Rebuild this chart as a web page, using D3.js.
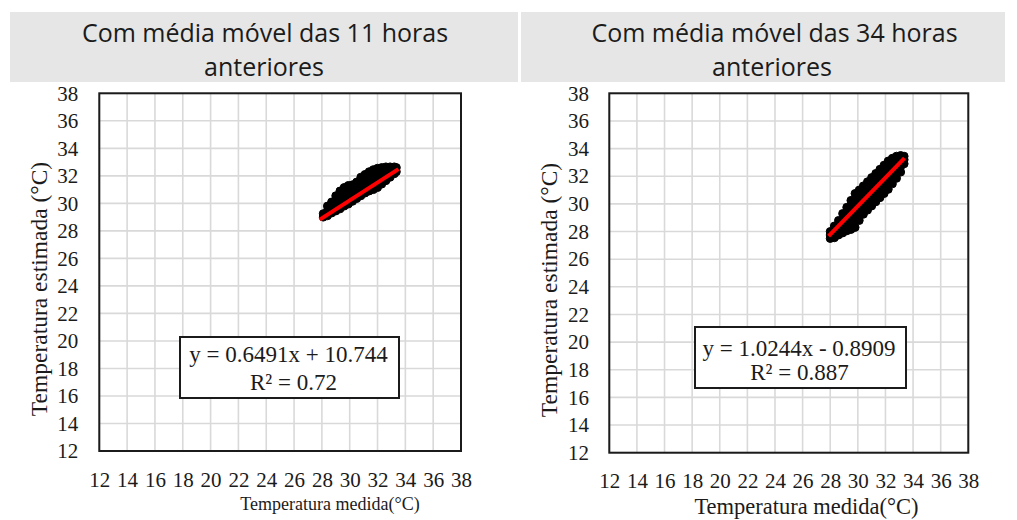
<!DOCTYPE html>
<html><head><meta charset="utf-8">
<script src="https://cdn.jsdelivr.net/npm/d3@7"></script>
<style>
html,body{margin:0;padding:0;background:#fff;}
svg{display:block;}
</style></head><body>
<svg id="chart" width="1017" height="520"></svg>
<script>
// Tick values shared by both axes of both panels
const tickValues = [12, 14, 16, 18, 20, 22, 24, 26, 28, 30, 32, 34, 36, 38];

const panelTitles = [
  ["Com média móvel das 11 horas", "anteriores"],
  ["Com média móvel das 34 horas", "anteriores"]
];
const xAxisTitle = "Temperatura medida(°C)";
const yAxisTitle = "Temperatura estimada (°C)";

// Linear fit of each panel
const slopes = [0.6491, 1.0244];
const intercepts = [10.744, -0.8909];
const rSquared = ["0.72", "0.887"];
const fitRange = [[27.85, 33.5], [27.88, 33.38]];

// Measured vs estimated temperature, 11-hour moving average
const cloud11 = [
  [28.1, 29.0], [28.1, 29.25],
  [28.4, 29.1], [28.4, 29.45], [28.4, 29.8],
  [28.7, 29.3], [28.7, 29.7], [28.7, 30.1],
  [29.0, 29.45], [29.0, 29.85], [29.0, 30.25], [29.0, 30.55],
  [29.3, 29.6], [29.3, 30.0], [29.3, 30.45], [29.3, 30.9],
  [29.6, 29.8], [29.6, 30.25], [29.6, 30.7], [29.6, 31.15],
  [29.9, 29.95], [29.9, 30.4], [29.9, 30.85], [29.9, 31.3],
  [30.2, 30.15], [30.2, 30.55], [30.2, 30.95], [30.2, 31.35],
  [30.5, 30.35], [30.5, 30.75], [30.5, 31.15], [30.5, 31.55],
  [30.8, 30.55], [30.8, 30.95], [30.8, 31.4], [30.8, 31.9],
  [31.1, 30.75], [31.1, 31.2], [31.1, 31.65], [31.1, 32.1],
  [31.4, 30.9], [31.4, 31.35], [31.4, 31.85], [31.4, 32.3],
  [31.7, 31.0], [31.7, 31.5], [31.7, 32.0], [31.7, 32.45],
  [32.0, 31.15], [32.0, 31.6], [32.0, 32.1], [32.0, 32.55],
  [32.3, 31.4], [32.3, 31.8], [32.3, 32.2], [32.3, 32.6],
  [32.6, 31.65], [32.6, 32.0], [32.6, 32.35], [32.6, 32.65],
  [32.9, 31.9], [32.9, 32.25], [32.9, 32.65],
  [33.2, 32.15], [33.2, 32.4], [33.2, 32.65],
  [33.35, 32.3], [33.35, 32.6]
];

// Measured vs estimated temperature, 34-hour moving average
const cloud34 = [
  [28.0, 27.5], [28.0, 27.75], [28.0, 28.0],
  [28.3, 27.55], [28.3, 28.0], [28.3, 28.4],
  [28.6, 27.75], [28.6, 28.25], [28.6, 28.8],
  [28.9, 27.9], [28.9, 28.35], [28.9, 28.85], [28.9, 29.3],
  [29.2, 28.05], [29.2, 28.5], [29.2, 28.95], [29.2, 29.35], [29.2, 29.75],
  [29.5, 28.15], [29.5, 28.65], [29.5, 29.2], [29.5, 29.75], [29.5, 30.25],
  [29.8, 28.3], [29.8, 28.8], [29.8, 29.3], [29.8, 29.8], [29.8, 30.3], [29.8, 30.75],
  [30.1, 28.8], [30.1, 29.35], [30.1, 29.9], [30.1, 30.45], [30.1, 31.0],
  [30.4, 29.25], [30.4, 29.75], [30.4, 30.3], [30.4, 30.8], [30.4, 31.3],
  [30.7, 29.55], [30.7, 30.05], [30.7, 30.55], [30.7, 31.1], [30.7, 31.6],
  [31.0, 29.85], [31.0, 30.35], [31.0, 30.85], [31.0, 31.4], [31.0, 31.9],
  [31.3, 30.15], [31.3, 30.65], [31.3, 31.15], [31.3, 31.7], [31.3, 32.2],
  [31.6, 30.45], [31.6, 30.95], [31.6, 31.45], [31.6, 32.0], [31.6, 32.5],
  [31.9, 30.75], [31.9, 31.25], [31.9, 31.75], [31.9, 32.3], [31.9, 32.8],
  [32.2, 31.05], [32.2, 31.55], [32.2, 32.05], [32.2, 32.6], [32.2, 33.1],
  [32.5, 31.45], [32.5, 31.9], [32.5, 32.4], [32.5, 32.85], [32.5, 33.3],
  [32.8, 31.85], [32.8, 32.3], [32.8, 32.75], [32.8, 33.15], [32.8, 33.45],
  [33.1, 32.3], [33.1, 32.7], [33.1, 33.1], [33.1, 33.5],
  [33.35, 32.9], [33.35, 33.2], [33.35, 33.45]
];
const clouds = [cloud11, cloud34];

// Page geometry of the two panels
const layout = [
  {
    band: [10, 518], titleX: [265, 264],
    plot: { x0: 99.3, x1: 461, y0: 93.3, y1: 451 },
    yPad: 21, xPad: 20.8,
    xTitle: { x: 330, y: 510, size: 18 },
    yTitle: { x: 47, y: 289 },
    box: { x: 180, y: 337, w: 219, h: 61, l1: [288.5, 362], l2: [293.5, 390] }
  },
  {
    band: [521, 1005], titleX: [774.5, 772],
    plot: { x0: 609.3, x1: 968.3, y0: 93.3, y1: 452.7 },
    yPad: 20.3, xPad: 20.1,
    xTitle: { x: 806.5, y: 514, size: 22.5 },
    yTitle: { x: 557, y: 290 },
    box: { x: 695, y: 327, w: 211, h: 61, l1: [799, 356], l2: [799.5, 380] }
  }
];

const serif = "'Liberation Serif', 'Times New Roman', serif";
const sans = "'Open Sans', 'Noto Sans', sans-serif";
const ink = "#1b1b1b";

const svg = d3.select("#chart");
svg.append("rect").attr("width", 1017).attr("height", 520).attr("fill", "#fff");

layout.forEach((L, i) => {
  const g = svg.append("g");

  // header band with the panel title
  g.append("rect")
    .attr("x", L.band[0]).attr("y", 12)
    .attr("width", L.band[1] - L.band[0]).attr("height", 70)
    .attr("fill", "#e6e6e6");
  [41.7, 76].forEach((yb, k) => {
    g.append("text")
      .attr("x", L.titleX[k]).attr("y", yb)
      .attr("text-anchor", "middle")
      .style("font-family", sans).style("font-size", "25px")
      .attr("fill", ink)
      .text(panelTitles[i][k]);
  });

  const x = d3.scaleLinear().domain([12, 38]).range([L.plot.x0, L.plot.x1]);
  const y = d3.scaleLinear().domain([12, 38]).range([L.plot.y1, L.plot.y0]);

  // grid
  g.append("g").selectAll("line").data(tickValues).join("line")
    .attr("x1", d => x(d)).attr("x2", d => x(d))
    .attr("y1", y(38)).attr("y2", y(12))
    .attr("stroke", "#d9d9d9").attr("stroke-width", 1.6);
  g.append("g").selectAll("line").data(tickValues).join("line")
    .attr("y1", d => y(d)).attr("y2", d => y(d))
    .attr("x1", x(12)).attr("x2", x(38))
    .attr("stroke", "#d9d9d9").attr("stroke-width", 1.6);

  // axes (labels only)
  const xAxis = g.append("g")
    .attr("transform", `translate(0,${L.plot.y1})`)
    .call(d3.axisBottom(x).tickValues(tickValues).tickSize(0).tickPadding(L.xPad));
  const yAxis = g.append("g")
    .attr("transform", `translate(${L.plot.x0},0)`)
    .call(d3.axisLeft(y).tickValues(tickValues).tickSize(0).tickPadding(L.yPad));
  [xAxis, yAxis].forEach(a => {
    a.select(".domain").remove();
    a.style("font-family", serif).style("font-size", "21px");
    a.selectAll(".tick text")
      .style("font-family", serif)
      .style("font-size", "21px")
      .style("fill", ink);
  });

  // scatter points
  g.append("g").selectAll("circle").data(clouds[i]).join("circle")
    .attr("cx", d => x(d[0])).attr("cy", d => y(d[1]))
    .attr("r", 4)
    .attr("fill", "#000").attr("stroke", "#000").attr("stroke-width", 1);

  // fitted line
  const fx = fitRange[i];
  g.append("line")
    .attr("x1", x(fx[0])).attr("y1", y(slopes[i] * fx[0] + intercepts[i]))
    .attr("x2", x(fx[1])).attr("y2", y(slopes[i] * fx[1] + intercepts[i]))
    .attr("stroke", "#ff0000").attr("stroke-width", 4);

  // plot frame
  g.append("rect")
    .attr("x", L.plot.x0).attr("y", L.plot.y0)
    .attr("width", L.plot.x1 - L.plot.x0).attr("height", L.plot.y1 - L.plot.y0)
    .attr("fill", "none").attr("stroke", ink).attr("stroke-width", 2);

  // equation box
  const b = L.box;
  g.append("rect")
    .attr("x", b.x).attr("y", b.y).attr("width", b.w).attr("height", b.h)
    .attr("fill", "#fff").attr("stroke", ink).attr("stroke-width", 2);
  const sign = intercepts[i] < 0 ? " - " : " + ";
  const eq = `y = ${slopes[i]}x${sign}${Math.abs(intercepts[i])}`;
  g.append("text")
    .attr("x", b.l1[0]).attr("y", b.l1[1]).attr("text-anchor", "middle")
    .style("font-family", serif).style("font-size", "23px").attr("fill", ink)
    .text(eq);
  g.append("text")
    .attr("x", b.l2[0]).attr("y", b.l2[1]).attr("text-anchor", "middle")
    .style("font-family", serif).style("font-size", "23px").attr("fill", ink)
    .text(`R² = ${rSquared[i]}`);

  // axis titles
  g.append("text")
    .attr("x", L.xTitle.x).attr("y", L.xTitle.y).attr("text-anchor", "middle")
    .style("font-family", serif).style("font-size", L.xTitle.size + "px").attr("fill", ink)
    .text(xAxisTitle);
  g.append("text")
    .attr("transform", `translate(${L.yTitle.x},${L.yTitle.y}) rotate(-90)`)
    .attr("text-anchor", "middle")
    .style("font-family", serif).style("font-size", "23.5px").attr("fill", ink)
    .text(yAxisTitle);
});
</script>
</body></html>
